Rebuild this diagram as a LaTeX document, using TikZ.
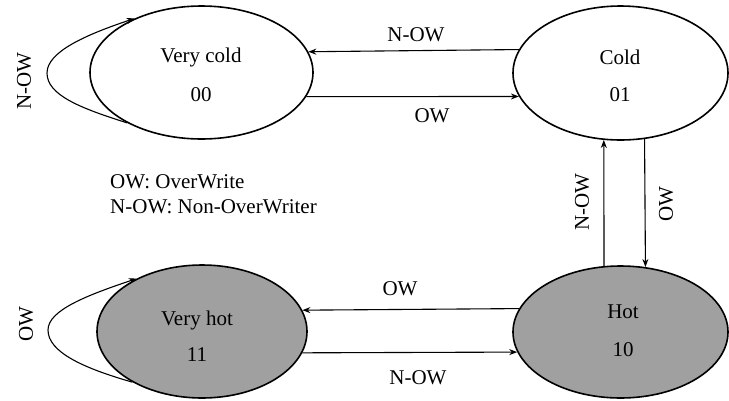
\documentclass[tikz,border=0pt]{standalone}
\usepackage{fontspec}
\setmainfont{Liberation Serif}
\usetikzlibrary{shapes.geometric,arrows.meta}
\begin{document}
\begin{tikzpicture}[x=1pt,y=-1pt,
  state/.style={ellipse,draw,line width=1.6pt,inner sep=0pt},
  hotstate/.style={state,fill=hotgray},
  edge/.style={line width=1.1pt,-{Stealth[length=8pt,width=6pt]}},
  lbl/.style={font=\rmfamily\fontsize{21}{25}\selectfont,inner sep=0pt}]
\definecolor{hotgray}{HTML}{A0A0A0}
\useasboundingbox (0,0) rectangle (729,400);
% states
\node[state,minimum width=223pt,minimum height=133pt] (vc) at (201.5,72.5) {};
\node[state,minimum width=215pt,minimum height=134pt] (c) at (620.5,73) {};
\node[hotstate,minimum width=210pt,minimum height=133pt] (vh) at (202,331.5) {};
\node[hotstate,minimum width=215pt,minimum height=132pt] (h) at (620.5,332) {};
% state texts
\node[lbl] (vct) at (201,57) {Very cold};
\node[lbl] (vcn) at (201,95) {00};
\node[lbl] (ct) at (620,57) {Cold};
\node[lbl] (cn) at (620,95) {01};
\node[lbl] (vht) at (197,320) {Very hot};
\node[lbl] (vhn) at (197,355) {11};
\node[lbl] (ht) at (623,312) {Hot};
\node[lbl] (hn) at (623,350) {10};
% top transitions
\draw[edge] (c.167.8) -- (vc.11.5);
\draw[edge] (vc.-13) -- (c.193.1);
\node[lbl] (l1) at (416,35) {N-OW};
\node[lbl] (l2) at (432,116) {OW};
% vertical transitions
\draw[edge] (h.104.2) -- (c.256);
\draw[edge] (c.290.6) -- (h.69.1);
\node[lbl,rotate=90] (l3) at (582,202) {N-OW};
\node[lbl,rotate=90] (l4) at (666,204) {OW};
% bottom transitions
\draw[edge] (h.167.8) -- (vh.12.2);
\draw[edge] (vh.-12.2) -- (h.191.65);
\node[lbl] (l5) at (400,289) {OW};
\node[lbl] (l6) at (418,378) {N-OW};
% self loops
\draw[edge] (vc.214.7) .. controls (80,108) and (47,95) .. (47,73)
  .. controls (47,52) and (85,35) .. (vc.141.7);
\node[lbl,rotate=90] (l7) at (24,81) {N-OW};
\draw[edge] (vh.216.7) .. controls (83,368) and (48,352) .. (48,330)
  .. controls (48,310) and (88,295) .. (vh.141.2);
\node[lbl,rotate=90] (l8) at (26,324) {OW};
% legend
\node[lbl,anchor=west] (leg1) at (110,182) {OW: OverWrite};
\node[lbl,anchor=west] (leg2) at (110,207) {N-OW: Non-OverWriter};
\end{tikzpicture}
\end{document}
